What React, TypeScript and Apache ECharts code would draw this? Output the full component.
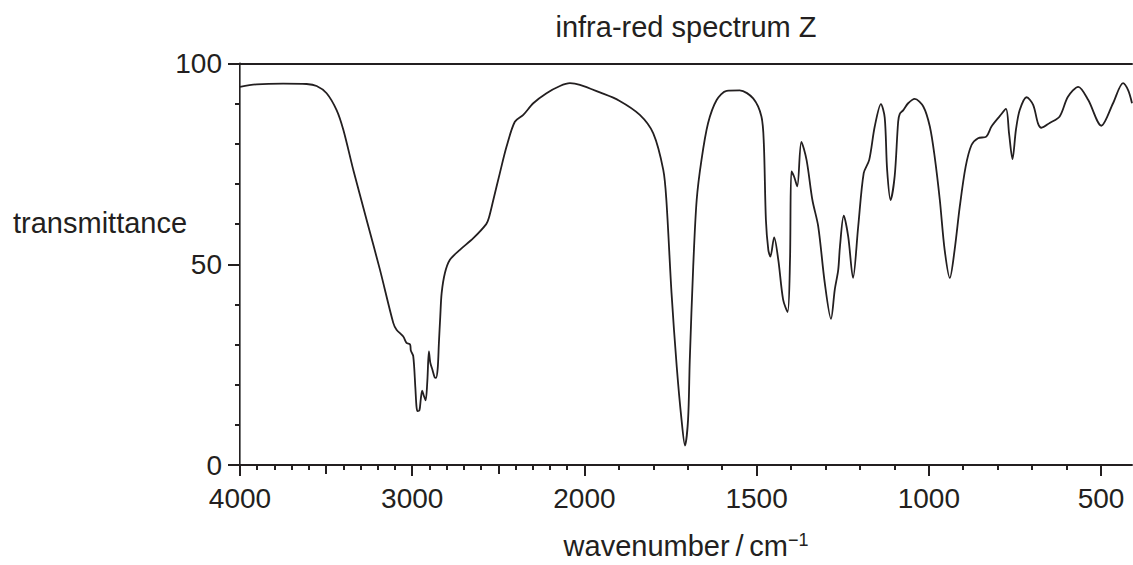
import React, { useEffect, useRef } from "react";
import * as echarts from "echarts";

// ---- data ----
const TITLE = "infra-red spectrum Z";
const Y_NAME = "transmittance";
const X_NAME_MAIN = "wavenumber\u2009/\u2009cm";
const X_NAME_SUP = "\u22121";

const WAVENUMBER = [
  4000, 3903, 3750, 3613, 3555, 3497, 3439, 3400, 3342, 3265, 3187, 3110, 3091,
  3052, 3033, 3012, 3008, 2994, 2982, 2975, 2969, 2958, 2950, 2942, 2932, 2922,
  2912, 2903, 2895, 2883, 2870, 2862, 2852, 2845, 2837, 2829, 2810, 2781, 2723,
  2645, 2570, 2555, 2529, 2491, 2452, 2404, 2355, 2297, 2220, 2142, 2084, 2026,
  1955, 1900, 1839, 1800, 1771, 1762, 1747, 1732, 1718, 1708, 1699, 1694, 1684,
  1674, 1660, 1641, 1616, 1587, 1549, 1510, 1486, 1479, 1473, 1466, 1460, 1449,
  1437, 1423, 1410, 1403, 1399, 1391, 1382, 1370, 1355, 1338, 1321, 1302, 1284,
  1273, 1263, 1258, 1247, 1234, 1220, 1205, 1189, 1173, 1157, 1139, 1128, 1121,
  1111, 1099, 1089, 1084, 1074, 1060, 1041, 1016, 997, 983, 968, 954, 939, 925,
  910, 893, 876, 857, 833, 818, 794, 776, 767, 757, 747, 736, 716, 697, 683, 673,
  649, 620, 596, 566, 537, 499, 465, 436, 421, 410,
];

const TRANSMITTANCE = [
  94.2, 94.8, 95.0, 94.9, 94.4, 92.6, 88.4, 83.5, 73.5, 61.1, 48.6, 35.4, 33.7,
  32.0, 30.4, 30.0, 28.5, 27.1, 19.5, 14.5, 13.4, 13.6, 16.5, 18.5, 17.2, 16.1,
  21.0, 28.3, 25.5, 23.8, 21.9, 21.7, 24.0, 30.4, 37.0, 42.8, 47.8, 51.1, 53.6,
  56.5, 60.0, 61.5, 66.0, 72.7, 79.3, 85.5, 87.2, 90.1, 92.6, 94.4, 95.1, 94.7,
  92.8, 90.8, 87.2, 82.6, 73.5, 66.0, 42.8, 24.6, 11.3, 4.85, 11.3, 26.2, 49.5,
  66.0, 76.0, 85.1, 90.9, 93.2, 93.3, 91.3, 86.8, 80.1, 61.1, 53.6, 51.9, 56.7,
  51.1, 41.2, 38.1, 51.1, 73.1, 71.8, 69.4, 80.5, 76.0, 66.0, 59.4, 45.3, 36.4,
  43.7, 48.6, 54.4, 62.1, 56.9, 46.6, 59.4, 72.7, 76.0, 84.3, 89.9, 86.5, 73.5,
  66.0, 72.0, 85.5, 87.5, 88.4, 90.1, 91.2, 89.3, 84.3, 76.8, 66.0, 53.6, 46.6, 53.6,
  64.4, 74.3, 79.7, 81.4, 81.8, 84.3, 86.9, 88.7, 82.6, 76.2, 83.5, 88.4, 91.6, 89.7, 85.1, 84.0,
  85.2, 86.8, 91.7, 94.2, 90.9, 84.5, 90.1, 95.1, 93.3, 90.1,
];

const MAJOR_TICKS = [4000, 3000, 2000, 1500, 1000, 500];
const MEDIUM_TICKS = [3500, 2500];
const MINOR_TICKS = [
  3900, 3800, 3700, 3600, 3400, 3300, 3200, 3100, 2900, 2800, 2700, 2600, 2400,
  2300, 2200, 2100, 1900, 1800, 1700, 1600, 1400, 1300, 1200, 1100, 900, 800,
  700, 600,
];
const X_START = 4000;
const X_END = 410;
const Y_MIN = 0;
const Y_MAX = 100;
const Y_INTERVAL = 50;

// The spectrum axis is compressed 2:1 above 2000 cm-1 (standard IR chart layout)
function toAxis(w: number): number {
  return w >= 2000 ? (4000 - w) / 2 : 1000 + (2000 - w);
}
function fromAxis(u: number): number {
  return u <= 1000 ? 4000 - 2 * u : 3000 - u;
}

const INK = "#231f20";
const FONT = "'Liberation Sans', Arial, Helvetica, sans-serif";

export default function App() {
  const ref = useRef<HTMLDivElement>(null);

  useEffect(() => {
    if (!ref.current) return;
    const chart = echarts.init(ref.current, undefined, { renderer: "svg" });
    const uMin = toAxis(X_START);
    const uMax = toAxis(X_END);
    const points = WAVENUMBER.map((w, i) => [toAxis(w), TRANSMITTANCE[i]]);

    const baseX = {
      type: "value" as const,
      min: uMin,
      max: uMax,
      position: "bottom" as const,
      splitLine: { show: false },
      axisLabel: { show: false },
      axisLine: { show: false },
    };

    chart.setOption({
      animation: false,
      backgroundColor: "#ffffff",
      title: [
        {
          text: TITLE,
          left: 686,
          top: 12,
          textAlign: "center",
          padding: 0,
          textStyle: { fontSize: 29, fontWeight: "normal", color: INK, fontFamily: FONT },
        },
        {
          text: Y_NAME,
          left: 13,
          top: 208,
          padding: 0,
          textStyle: { fontSize: 29, fontWeight: "normal", color: INK, fontFamily: FONT },
        },
      ],
      grid: { left: 240, right: 1, top: 63.5, bottom: 99.5, containLabel: false },
      xAxis: [
        {
          ...baseX,
          axisLine: { show: true, lineStyle: { color: INK, width: 2 } },
          axisTick: {
            show: true,
            length: 11,
            lineStyle: { color: INK, width: 2 },
            customValues: MAJOR_TICKS.map(toAxis),
          },
          axisLabel: {
            show: true,
            margin: 19,
            fontSize: 28,
            color: INK,
            fontFamily: FONT,
            customValues: MAJOR_TICKS.map(toAxis),
            formatter: (v: number) => String(Math.round(fromAxis(v))),
          },
          name: `{a|${X_NAME_MAIN}}{b|${X_NAME_SUP}}`,
          nameLocation: "middle",
          nameGap: 66,
          nameTextStyle: {
            rich: {
              a: { fontSize: 29, color: INK, fontFamily: FONT },
              b: { fontSize: 18, color: INK, fontFamily: FONT, verticalAlign: "top" },
            },
          },
        },
        {
          ...baseX,
          axisTick: {
            show: true,
            length: 9,
            lineStyle: { color: INK, width: 2 },
            customValues: MEDIUM_TICKS.map(toAxis),
          },
        },
        {
          ...baseX,
          axisTick: {
            show: true,
            length: 5,
            lineStyle: { color: INK, width: 2 },
            customValues: MINOR_TICKS.map(toAxis),
          },
        },
        {
          ...baseX,
          position: "top" as const,
          axisLine: { show: true, lineStyle: { color: INK, width: 2 } },
          axisTick: { show: false },
        },
      ],
      yAxis: [
        {
          type: "value",
          min: Y_MIN,
          max: Y_MAX,
          interval: Y_INTERVAL,
          position: "left",
          splitLine: { show: false },
          axisLine: { show: true, lineStyle: { color: INK, width: 2 } },
          axisTick: { show: true, length: 12, lineStyle: { color: INK, width: 2 } },
          minorTick: { show: true, splitNumber: 5, length: 5, lineStyle: { color: INK, width: 2 } },
          axisLabel: { margin: 18, fontSize: 28, color: INK, fontFamily: FONT },
        },
        {
          type: "value",
          min: Y_MIN,
          max: Y_MAX,
          position: "right",
          splitLine: { show: false },
          axisLine: { show: true, lineStyle: { color: "#777", width: 1 } },
          axisTick: { show: false },
          axisLabel: { show: false },
        },
      ],
      series: [
        {
          type: "line",
          xAxisIndex: 0,
          yAxisIndex: 0,
          data: points,
          showSymbol: false,
          smooth: 0.3,
          lineStyle: { color: INK, width: 1.8 },
          clip: true,
        },
      ],
    });

    return () => chart.dispose();
  }, []);

  return (
    <div
      ref={ref}
      style={{ position: "absolute", left: 0, top: 0, width: 1133, height: 565 }}
    />
  );
}
